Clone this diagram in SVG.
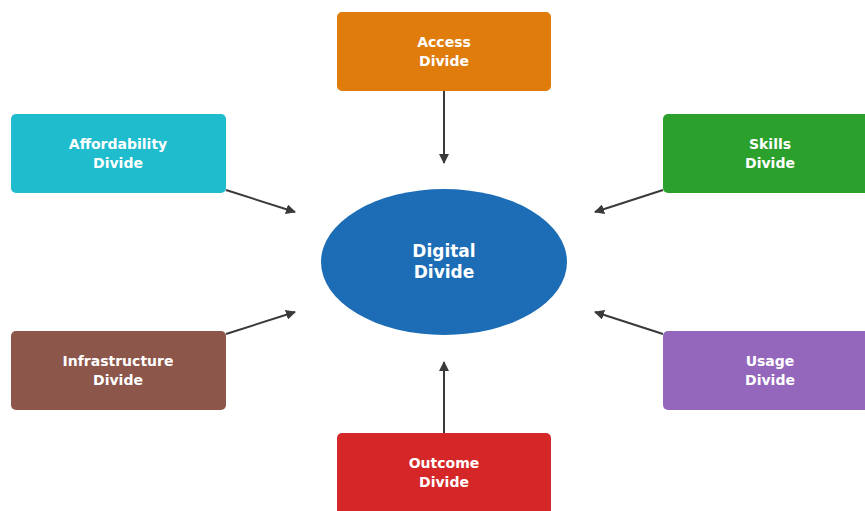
<svg xmlns="http://www.w3.org/2000/svg" width="865" height="511" viewBox="0 0 865 511">
  <style>
    .box { stroke: none; }
    .lbl { font-family: "DejaVu Sans", sans-serif; font-weight: bold; font-size: 14px; fill: #ffffff; text-anchor: middle; }
    .big { font-size: 17px; }
    .edge { stroke: #3a3a3a; stroke-width: 2; fill: none; marker-end: url(#head); }
  </style>
  <defs>
    <marker id="head" viewBox="0 0 10 10" refX="9" refY="5" markerWidth="5" markerHeight="5" orient="auto" markerUnits="strokeWidth">
      <path d="M0,0 L10,5 L0,10 z" fill="#3a3a3a"/>
    </marker>
  </defs>
  <rect width="865" height="511" fill="#ffffff"/>

  <g id="connectors">
    <line class="edge" x1="444" y1="91" x2="444" y2="163"/>
    <line class="edge" x1="226" y1="190" x2="295" y2="212"/>
    <line class="edge" x1="663" y1="190" x2="595" y2="212"/>
    <line class="edge" x1="226" y1="334" x2="295" y2="312"/>
    <line class="edge" x1="663" y1="334" x2="595" y2="312"/>
    <line class="edge" x1="444" y1="433" x2="444" y2="362"/>
  </g>

  <g id="digital">
    <ellipse cx="444" cy="262" rx="123" ry="73" fill="#1c6db5"/>
    <text class="lbl big" x="444" y="257">Digital</text>
    <text class="lbl big" x="444" y="278">Divide</text>
  </g>

  <g id="access">
    <rect class="box" x="337" y="12" width="214" height="79" rx="5" fill="#e07c0c"/>
    <text class="lbl" x="444" y="47">Access</text>
    <text class="lbl" x="444" y="66">Divide</text>
  </g>

  <g id="affordability">
    <rect class="box" x="11" y="114" width="215" height="79" rx="5" fill="#1ebccd"/>
    <text class="lbl" x="118" y="149">Affordability</text>
    <text class="lbl" x="118" y="168">Divide</text>
  </g>

  <g id="skills">
    <rect class="box" x="663" y="114" width="215" height="79" rx="5" fill="#2ca02c"/>
    <text class="lbl" x="770" y="149">Skills</text>
    <text class="lbl" x="770" y="168">Divide</text>
  </g>

  <g id="infrastructure">
    <rect class="box" x="11" y="331" width="215" height="79" rx="5" fill="#8c564b"/>
    <text class="lbl" x="118" y="366">Infrastructure</text>
    <text class="lbl" x="118" y="385">Divide</text>
  </g>

  <g id="usage">
    <rect class="box" x="663" y="331" width="215" height="79" rx="5" fill="#9467bd"/>
    <text class="lbl" x="770" y="366">Usage</text>
    <text class="lbl" x="770" y="385">Divide</text>
  </g>

  <g id="outcome">
    <rect class="box" x="337" y="433" width="214" height="85" rx="5" fill="#d62728"/>
    <text class="lbl" x="444" y="468">Outcome</text>
    <text class="lbl" x="444" y="487">Divide</text>
  </g>
</svg>
